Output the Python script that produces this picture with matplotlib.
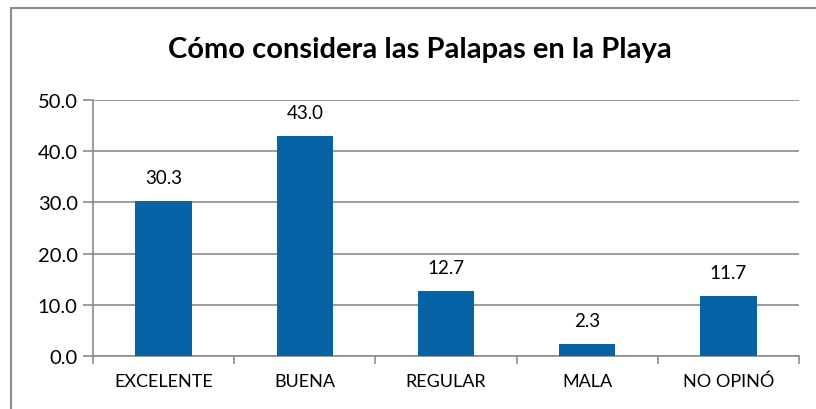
import matplotlib
matplotlib.use("Agg")
import matplotlib.pyplot as plt
from matplotlib.lines import Line2D

categories = ["EXCELENTE", "BUENA", "REGULAR", "MALA", "NO OPINÓ"]
values = [30.3, 43.0, 12.7, 2.3, 11.7]
yticks = [0, 10, 20, 30, 40, 50]
title = "Cómo considera las Palapas en la Playa"

plt.rcParams['font.family'] = ['Lato', 'DejaVu Sans']

W, H = 816, 410
fig = plt.figure(figsize=(W/100, H/100), dpi=100)
ax = fig.add_axes([93/W, (H-357)/H, (799-93)/W, (357-101)/H])

x = list(range(len(categories)))
ax.bar(x, values, width=0.4, color="#0563A6", zorder=3)
for xi, v in zip(x, values):
    ax.text(xi, v + 2.9, f"{v:.1f}", ha="center", va="bottom", fontsize=13.5, color="#000000")

ax.set_xlim(-0.5, len(categories) - 0.5)
ax.set_ylim(0, 50)
ax.set_yticks(yticks)
ax.set_yticklabels([f"{t:.1f}" for t in yticks], fontsize=14.5)
ax.yaxis.grid(True, color="#8c8c8c", linewidth=1.2, zorder=0)
ax.set_xticks(x)
ax.set_xticklabels(categories, fontsize=13)
ax.tick_params(axis="x", length=0, pad=12)
ax.tick_params(axis="y", length=7, color="#8c8c8c", width=1.2, pad=4)
ax.set_xticks([i - 0.5 for i in range(len(categories) + 1)], minor=True)
ax.tick_params(axis="x", which="minor", length=6, color="#8c8c8c", width=1.2)
for s in ["top", "right"]:
    ax.spines[s].set_visible(False)
for s in ["left", "bottom"]:
    ax.spines[s].set_color("#8c8c8c")
    ax.spines[s].set_linewidth(1.2)

fig.text(420/W, 1 - 50/H, title, ha="center", va="center", fontsize=21, fontweight="bold")

fig.add_artist(Line2D([11/W, 1], [1 - 9/H, 1 - 9/H], color="#8c8c8c", linewidth=1.5, transform=fig.transFigure))
fig.add_artist(Line2D([11/W, 11/W], [0, 1 - 9/H], color="#8c8c8c", linewidth=1.5, transform=fig.transFigure))

fig.savefig("out.png", dpi=100)
